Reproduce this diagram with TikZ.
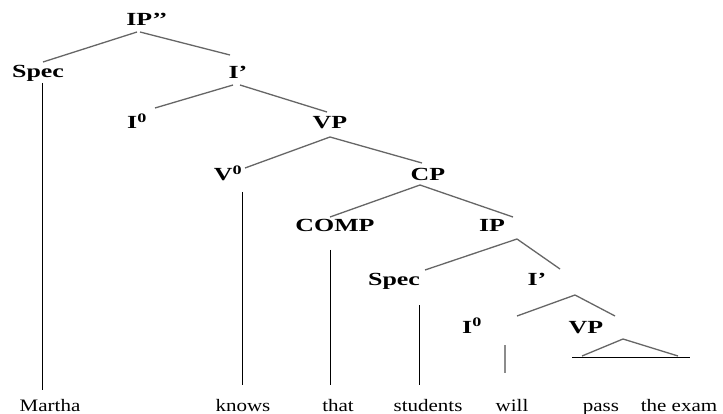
\documentclass[tikz,border=0pt]{standalone}
\usepackage{fontspec}
\setmainfont{Liberation Serif}
\newfontfamily\labfont[FakeStretch=1.4]{Liberation Serif}
\newfontfamily\wordfont[FakeStretch=1.2]{Liberation Serif}
\begin{document}
\begin{tikzpicture}[x=1pt,y=-1pt,
  lab/.style={font=\labfont\bfseries\fontsize{18.5}{18}\selectfont, inner sep=0pt, text height=12pt, text depth=0pt},
  word/.style={font=\wordfont\fontsize{17.5}{17}\selectfont, inner sep=0pt, anchor=base},
  br/.style={draw=black!60, line width=1.3pt},
  vl/.style={draw=black, line width=1pt},
  vlg/.style={draw=black!45, line width=1.2pt}]
\useasboundingbox[fill=white] (0,0) rectangle (723,414);
% labels
\node[lab] (ipp) at (147,20) {IP’’};
\node[lab] (spec) at (38,72) {Spec};
\node[lab] (i1) at (238,73) {I’};
\node[lab] (i0) at (137,123) {I\textsuperscript{0}};
\node[lab] (vp) at (330,123) {VP};
\node[lab] (v0) at (228,175) {V\textsuperscript{0}};
\node[lab] (cp) at (428,175) {CP};
\node[lab] (comp) at (335,226) {COMP};
\node[lab] (ip) at (492,226) {IP};
\node[lab] (spec2) at (394,279) {Spec};
\node[lab] (i2) at (537,279) {I’};
\node[lab] (i02) at (472,327) {I\textsuperscript{0}};
\node[lab] (vp2) at (586,327) {VP};
% words
\node[word] (martha) at (50,411) {Martha};
\node[word] (knows) at (243,411) {knows};
\node[word] (that) at (338,411) {that};
\node[word] (students) at (428,411) {students};
\node[word] (will) at (512,411) {will};
\node[word] (pass) at (601,411) {pass};
\node[word] (exam) at (679,411) {the exam};
% branches
\draw[br] ([shift={(-10,12)}]ipp.center) -- ([shift={(5,-10)}]spec.center);
\draw[br] ([shift={(-7,12)}]ipp.center) -- ([shift={(-8,-18)}]i1.center);
\draw[br] ([shift={(-5,12)}]i1.center) -- ([shift={(18,-15)}]i0.center);
\draw[br] ([shift={(2,12)}]i1.center) -- ([shift={(-3,-11)}]vp.center);
\draw[br] ([shift={(0,14)}]vp.center) -- ([shift={(17,-7)}]v0.center);
\draw[br] ([shift={(0,14)}]vp.center) -- ([shift={(-6,-12)}]cp.center);
\draw[br] ([shift={(-8,10)}]cp.center) -- ([shift={(-5,-9)}]comp.center);
\draw[br] ([shift={(-8,10)}]cp.center) -- ([shift={(21,-9)}]ip.center);
\draw[br] ([shift={(25,13)}]ip.center) -- ([shift={(31,-9)}]spec2.center);
\draw[br] ([shift={(25,13)}]ip.center) -- ([shift={(23,-10)}]i2.center);
\draw[br] ([shift={(38,16)}]i2.center) -- ([shift={(45,-11)}]i02.center);
\draw[br] ([shift={(38,16)}]i2.center) -- ([shift={(29,-11)}]vp2.center);
% triangle under VP
\coordinate (apex) at ([shift={(37,12)}]vp2.center);
\coordinate (tl) at ([shift={(-19,-55)}]pass.base);
\coordinate (tr) at ([shift={(-1,-55)}]exam.base);
\draw[br] (tl) -- (apex) -- (tr);
\draw[vl] ([shift={(-29,-54)}]pass.base) -- ([shift={(11,-54)}]exam.base);
% vertical lines
\draw[vl] ([shift={(4,11)}]spec.center) -- ([shift={(-8,-21)}]martha.base);
\draw[vl] ([shift={(14,17)}]v0.center) -- ([shift={(-1,-26)}]knows.base);
\draw[vl] ([shift={(-5,24)}]comp.center) -- ([shift={(-8,-26)}]that.base);
\draw[vl] ([shift={(25,26)}]spec2.center) -- ([shift={(-9,-26)}]students.base);
\draw[vlg] ([shift={(33,18)}]i02.center) -- ([shift={(-7,-38)}]will.base);
\end{tikzpicture}
\end{document}
